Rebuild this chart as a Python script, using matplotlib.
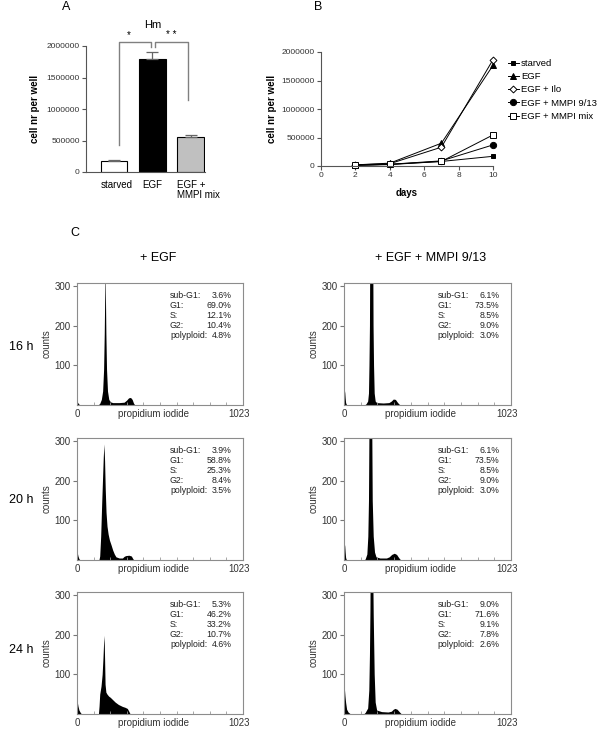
import numpy as np
import matplotlib
matplotlib.use("Agg")
import matplotlib.pyplot as plt
import matplotlib.transforms as mtransforms

plt.rcParams["font.family"] = ["Liberation Sans", "DejaVu Sans"]

# ---- panel A: cell number after 10 days
bar_labels = ["starved", "EGF", "EGF +\nMMPI mix"]
bar_values = [175000, 1790000, 550000]
bar_errors = [12000, 120000, 35000]
bar_colors = ["white", "black", "#c0c0c0"]

# ---- panel B: growth curves
days = [2, 4, 7, 10]
growth_names = ["starved", "EGF", "EGF + Ilo", "EGF + MMPI 9/13", "EGF + MMPI mix"]
growth_starved = [10000, 25000, 80000, 170000]
growth_egf = [20000, 50000, 400000, 1765000]
growth_ilo = [20000, 40000, 330000, 1865000]
growth_mmpi913 = [15000, 30000, 90000, 370000]
growth_mmpimix = [15000, 30000, 80000, 545000]

# ---- panel C: PI histograms (channel, counts)
h16_egf_ch = [0, 2, 6, 12, 20, 130, 140, 150, 158, 164, 168, 171, 173, 175, 178, 182, 188, 196, 206, 220, 260, 290, 305, 318, 330, 340, 348, 356, 1023]
h16_egf_ct = [0, 8, 5, 2, 0, 0, 4, 14, 35, 90, 180, 280, 360, 280, 180, 90, 35, 14, 8, 6, 6, 7, 12, 18, 19, 14, 5, 0, 0]

h16_mmpi_ch = [0, 2, 4, 7, 10, 16, 125, 135, 145, 150, 153, 156, 158, 176, 178, 181, 185, 191, 200, 240, 275, 290, 302, 315, 325, 335, 345, 1023]
h16_mmpi_ct = [0, 25, 36, 18, 6, 0, 0, 3, 10, 30, 100, 200, 400, 400, 200, 100, 30, 10, 6, 5, 6, 10, 15, 14, 8, 3, 0, 0]

h20_egf_ch = [0, 2, 6, 12, 20, 135, 140, 146, 152, 157, 162, 166, 170, 174, 179, 185, 192, 200, 210, 220, 230, 240, 260, 280, 290, 300, 320, 335, 343, 350, 1023]
h20_egf_ct = [0, 18, 10, 3, 0, 0, 10, 60, 140, 200, 260, 292, 250, 180, 120, 85, 65, 50, 38, 25, 15, 8, 5, 5, 9, 11, 12, 10, 4, 0, 0]

h20_mmpi_ch = [0, 2, 4, 7, 10, 15, 125, 130, 140, 146, 150, 154, 169, 173, 179, 187, 196, 220, 260, 277, 292, 308, 322, 335, 343, 350, 1023]
h20_mmpi_ct = [0, 30, 39, 20, 6, 0, 0, 3, 15, 60, 150, 400, 400, 150, 60, 20, 8, 5, 5, 8, 14, 17, 14, 6, 2, 0, 0]

h24_egf_ch = [0, 2, 6, 12, 20, 28, 132, 136, 140, 148, 155, 160, 164, 167, 170, 173, 178, 185, 195, 205, 215, 225, 235, 245, 255, 265, 280, 295, 310, 318, 325, 330, 1023]
h24_egf_ct = [0, 30, 20, 10, 4, 0, 0, 20, 50, 70, 100, 140, 180, 198, 140, 75, 55, 50, 45, 42, 38, 34, 30, 27, 24, 22, 19, 17, 14, 8, 2, 0, 0]

h24_mmpi_ch = [0, 1, 3, 6, 10, 16, 25, 40, 120, 130, 145, 152, 156, 159, 161, 175, 179, 185, 191, 200, 230, 270, 290, 302, 312, 325, 340, 352, 1023]
h24_mmpi_ct = [0, 45, 61, 45, 29, 12, 5, 0, 0, 4, 15, 60, 150, 260, 400, 400, 250, 100, 30, 10, 6, 5, 7, 12, 14, 12, 5, 0, 0]

stat_names = ["sub-G1:", "G1:", "S:", "G2:", "polyploid:"]
stats_16_egf = ["3.6%", "69.0%", "12.1%", "10.4%", "4.8%"]
stats_16_mmpi = ["6.1%", "73.5%", "8.5%", "9.0%", "3.0%"]
stats_20_egf = ["3.9%", "58.8%", "25.3%", "8.4%", "3.5%"]
stats_20_mmpi = ["6.1%", "73.5%", "8.5%", "9.0%", "3.0%"]
stats_24_egf = ["5.3%", "46.2%", "33.2%", "10.7%", "4.6%"]
stats_24_mmpi = ["9.0%", "71.6%", "9.1%", "7.8%", "2.6%"]

row_labels = ["16 h", "20 h", "24 h"]
col_titles = ["+ EGF", "+ EGF + MMPI 9/13"]

W, H = 600, 729
AX_GRAY = "#555555"
TXT_GRAY = "#333333"


def px_axes(fig, x0, y0, x1, y1):
    return fig.add_axes([x0 / W, 1 - y1 / H, (x1 - x0) / W, (y1 - y0) / H])


fig = plt.figure(figsize=(6, 7.29), dpi=100)

# ================= A
axA = px_axes(fig, 86, 46, 205, 172)
xpos = np.arange(len(bar_values))
axA.bar(xpos, bar_values, width=0.7, color=bar_colors, edgecolor="black", linewidth=0.8)
axA.errorbar(xpos, bar_values, yerr=[np.zeros(3), bar_errors], fmt="none",
             ecolor="#666666", elinewidth=0.9, capsize=4, capthick=0.9)
axA.set_xlim(-0.73, 2.37)
axA.set_ylim(0, 2000000)
axA.set_yticks([0, 500000, 1000000, 1500000, 2000000])
axA.set_yticklabels(["0", "500000", "1000000", "1500000", "2000000"])
axA.set_xticks([])
# category labels (third one is left aligned under its bar)
lab_tr = mtransforms.blended_transform_factory(axA.transData, axA.transAxes)
axA.text(0.08, -0.06, bar_labels[0], transform=lab_tr, ha="center", va="top", fontsize=7)
axA.text(1.0, -0.06, bar_labels[1], transform=lab_tr, ha="center", va="top", fontsize=7)
axA.text(1.65, -0.06, bar_labels[2], transform=lab_tr, ha="left", va="top", fontsize=7,
         linespacing=1.0)
axA.tick_params(axis="y", length=3, labelsize=6, colors=AX_GRAY, labelcolor=TXT_GRAY, pad=1.5)
for s in ["top", "right"]:
    axA.spines[s].set_visible(False)
for s in ["left", "bottom"]:
    axA.spines[s].set_color(AX_GRAY)
    axA.spines[s].set_linewidth(0.8)
axA.set_ylabel("cell nr per well", fontsize=7, fontweight="bold", labelpad=5)
br = dict(color="#808080", lw=1.0, clip_on=False)
axA.plot([0.13, 0.13, 0.97, 0.97], [430000, 2070000, 2070000, 1990000], **br)
axA.plot([1.06, 1.06, 1.94, 1.94], [1990000, 2070000, 2070000, 1150000], **br)
axA.text(0.39, 2180000, "*", ha="center", va="center", fontsize=7)
axA.text(1.49, 2180000, "* *", ha="center", va="center", fontsize=7)
axA.text(1.0, 2330000, "Hm", ha="center", va="center", fontsize=8)
fig.text(66 / W, 1 - 7 / H, "A", ha="center", va="center", fontsize=9)

# ================= B
axB = px_axes(fig, 321, 52, 493, 166)
series = [growth_starved, growth_egf, growth_ilo, growth_mmpi913, growth_mmpimix]
styles = [
    dict(marker="s", ms=3.5, mfc="black"),
    dict(marker="^", ms=4.5, mfc="black"),
    dict(marker="D", ms=3.5, mfc="white"),
    dict(marker="o", ms=4.5, mfc="black"),
    dict(marker="s", ms=5, mfc="white"),
]
for vals, name, st in zip(series, growth_names, styles):
    axB.plot(days, vals, color="black", lw=0.7, mec="black", mew=0.7,
             label=name, clip_on=False, **st)
axB.set_xlim(0, 10)
axB.set_ylim(0, 2000000)
axB.set_xticks([0, 2, 4, 6, 8, 10])
axB.set_yticks([0, 500000, 1000000, 1500000, 2000000])
axB.set_yticklabels(["0", "500000", "1000000", "1500000", "2000000"])
axB.tick_params(length=3, labelsize=6, colors=AX_GRAY, labelcolor=TXT_GRAY, pad=1.5)
for s in ["top", "right"]:
    axB.spines[s].set_visible(False)
for s in ["left", "bottom"]:
    axB.spines[s].set_color(AX_GRAY)
    axB.spines[s].set_linewidth(0.8)
axB.set_ylabel("cell nr per well", fontsize=7, fontweight="bold", labelpad=3)
axB.set_xlabel("days", fontsize=7, fontweight="bold", labelpad=6)
axB.legend(loc="upper left", bbox_to_anchor=(1.085, 0.94), frameon=False,
           fontsize=6.8, handlelength=1.2, handletextpad=0.2, labelspacing=0.45,
           borderaxespad=0, borderpad=0)
fig.text(318 / W, 1 - 7 / H, "B", ha="center", va="center", fontsize=9)

# ================= C
fig.text(75 / W, 1 - 233 / H, "C", ha="center", va="center", fontsize=9)
fig.text(158 / W, 1 - 258 / H, col_titles[0], ha="center", va="center", fontsize=9)
fig.text(431 / W, 1 - 258 / H, col_titles[1], ha="center", va="center", fontsize=9)

hists = [
    [(h16_egf_ch, h16_egf_ct, stats_16_egf), (h16_mmpi_ch, h16_mmpi_ct, stats_16_mmpi)],
    [(h20_egf_ch, h20_egf_ct, stats_20_egf), (h20_mmpi_ch, h20_mmpi_ct, stats_20_mmpi)],
    [(h24_egf_ch, h24_egf_ct, stats_24_egf), (h24_mmpi_ch, h24_mmpi_ct, stats_24_mmpi)],
]
row_tops = [283, 438, 592]
col_x = [(77, 243), (344, 511)]
row_lab_y = [347, 500, 650]

for r in range(3):
    fig.text(21 / W, 1 - row_lab_y[r] / H, row_labels[r], ha="center", va="center", fontsize=9)
    for c in range(2):
        ch, ct, st = hists[r][c]
        x0, x1 = col_x[c]
        ax = px_axes(fig, x0, row_tops[r], x1, row_tops[r] + 122)
        ax.fill_between(ch, ct, 0, color="black", lw=0)
        ax.set_xlim(0, 1023)
        ax.set_ylim(0, 307)
        ax.set_yticks([100, 200, 300])
        ax.tick_params(axis="y", length=3, labelsize=7, colors="#777777",
                       labelcolor=TXT_GRAY, pad=1.5)
        ax.set_xticks([0, 470, 1000])
        ax.set_xticklabels(["0", "propidium iodide", "1023"])
        ax.tick_params(axis="x", length=0, labelsize=7, labelcolor=TXT_GRAY, pad=3)
        ax.set_xticks(np.linspace(0, 1023, 11), minor=True)
        ax.tick_params(axis="x", which="minor", direction="in", length=2,
                       color="#999999")
        for s in ax.spines.values():
            s.set_color("#8c8c8c")
            s.set_linewidth(0.8)
        ax.set_ylabel("counts", fontsize=7, color=TXT_GRAY, labelpad=2)
        for i, (nm, v) in enumerate(zip(stat_names, st)):
            yy = 0.895 - i * 0.082
            ax.text(0.56, yy, nm, transform=ax.transAxes, ha="left", va="center",
                    fontsize=6.3, color="#222222")
            ax.text(0.93, yy, v, transform=ax.transAxes, ha="right", va="center",
                    fontsize=6.3, color="#222222")

fig.savefig("out.png", dpi=100)
